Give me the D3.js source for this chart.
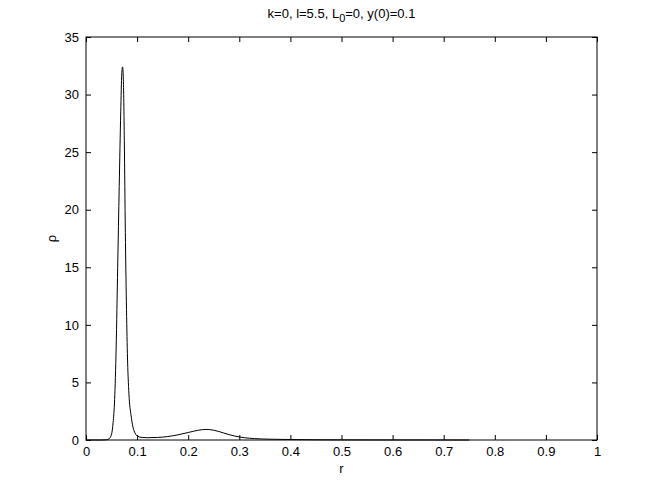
<!DOCTYPE html>
<html>
<head>
<meta charset="utf-8">
<script src="https://cdn.jsdelivr.net/npm/d3@7"></script>
<style>
  body { margin: 0; background: #fff; }
  svg text { font-family: "Liberation Sans", Arial, sans-serif; }
</style>
</head>
<body>
<svg id="chart" width="659" height="495"></svg>
<script>
// r values and density rho
var rVals = [0, 0.03, 0.04, 0.045, 0.05, 0.053, 0.056, 0.059, 0.062, 0.065, 0.068, 0.070, 0.0715,
             0.073, 0.075, 0.077, 0.079, 0.081, 0.084, 0.088, 0.092, 0.096, 0.10, 0.11, 0.12,
             0.14, 0.16, 0.18, 0.20, 0.22, 0.235, 0.25, 0.27, 0.29, 0.31, 0.33, 0.36, 0.40,
             0.45, 0.50, 0.60, 0.75];
var rhoVals = [0, 0, 0.02, 0.1, 0.5, 1.5, 3.5, 8, 15, 22, 28.5, 31.8, 32.4,
               31.5, 26, 18, 12, 7.5, 4, 2.2, 1.1, 0.6, 0.35, 0.22, 0.2,
               0.22, 0.3, 0.45, 0.65, 0.85, 0.92, 0.85, 0.6, 0.35, 0.2, 0.12, 0.07, 0.04,
               0.02, 0.01, 0.005, 0];
var xTicks = [0, 0.1, 0.2, 0.3, 0.4, 0.5, 0.6, 0.7, 0.8, 0.9, 1];
var yTicks = [0, 5, 10, 15, 20, 25, 30, 35];

var svg = d3.select("#chart");
var pLeft = 86, pRight = 597, pTop = 37, pBottom = 440;

var x = d3.scaleLinear().domain([0, 1]).range([pLeft, pRight]);
var y = d3.scaleLinear().domain([0, 35]).range([pBottom, pTop]);

var data = rVals.map(function(r, i) { return [r, rhoVals[i]]; });

// box
svg.append("rect")
  .attr("x", pLeft).attr("y", pTop)
  .attr("width", pRight - pLeft).attr("height", pBottom - pTop)
  .attr("fill", "none").attr("stroke", "#000").attr("stroke-width", 1);

// axes, ticks pointing inward
var xAxis = svg.append("g").attr("transform", "translate(0," + pBottom + ")")
  .call(d3.axisBottom(x).tickValues(xTicks).tickSize(-5).tickPadding(7)
    .tickFormat(function(d) { return d === 0 || d === 1 ? d3.format("d")(d) : d3.format(".1f")(d); }));
var xTop = svg.append("g").attr("transform", "translate(0," + pTop + ")")
  .call(d3.axisTop(x).tickValues(xTicks).tickSize(-5).tickFormat(""));
var yAxis = svg.append("g").attr("transform", "translate(" + pLeft + ",0)")
  .call(d3.axisLeft(y).tickValues(yTicks).tickSize(-5).tickPadding(7));
var yRight = svg.append("g").attr("transform", "translate(" + pRight + ",0)")
  .call(d3.axisRight(y).tickValues(yTicks).tickSize(-5).tickFormat(""));

[xAxis, xTop, yAxis, yRight].forEach(function(g) {
  g.select(".domain").remove();
  g.selectAll("line").attr("stroke", "#000");
  g.selectAll("text").attr("font-size", 13).attr("fill", "#000")
    .style("font-family", "'Liberation Sans', Arial, sans-serif");
});

// curve
svg.append("path")
  .datum(data)
  .attr("fill", "none")
  .attr("stroke", "#000")
  .attr("stroke-width", 1)
  .attr("d", d3.line()
    .x(function(d) { return x(d[0]); })
    .y(function(d) { return y(d[1]); })
    .curve(d3.curveMonotoneX));

// labels
svg.append("text")
  .attr("x", (pLeft + pRight) / 2).attr("y", 473)
  .attr("text-anchor", "middle").attr("font-size", 13)
  .text("r");

svg.append("text")
  .attr("transform", "translate(56," + ((pTop + pBottom) / 2) + ") rotate(-90)")
  .attr("text-anchor", "middle").attr("font-size", 13)
  .text("ρ");

var title = svg.append("text")
  .attr("x", (pLeft + pRight) / 2).attr("y", 18)
  .attr("text-anchor", "middle").attr("font-size", 13);
title.append("tspan").text("k=0, l=5.5, L");
title.append("tspan").attr("dy", 4).attr("font-size", 11).text("0");
title.append("tspan").attr("dy", -4).text("=0, y(0)=0.1");
</script>
</body>
</html>
